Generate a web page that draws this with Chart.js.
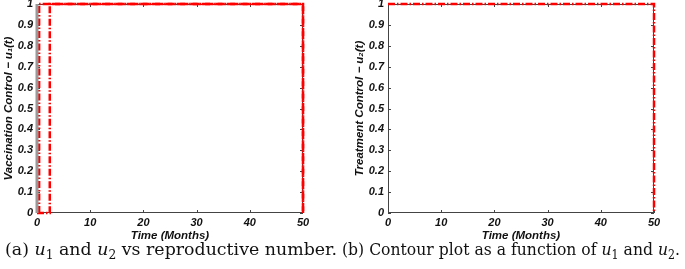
<!DOCTYPE html>
<html>
<head>
<meta charset="utf-8">
<script src="https://cdn.jsdelivr.net/npm/chart.js@4.4.0/dist/chart.umd.min.js"></script>
<style>
  body { margin: 0; background: #fff; width: 685px; height: 269px; overflow: hidden; position: relative; }
  .box { position: absolute; top: 0; width: 342px; height: 245px; }
  .cap { position: absolute; top: 239px; font-family: "DejaVu Serif", "Liberation Serif", serif; font-size: 17px; color: #111; white-space: nowrap; transform-origin: 0 0; }
  .cap sub { font-size: 12px; vertical-align: -4px; line-height: 0; }
</style>
</head>
<body>
<div class="box" style="left:0"><canvas id="chartA" width="342" height="245"></canvas></div>
<div class="box" style="left:351px"><canvas id="chartB" width="334" height="245"></canvas></div>
<div class="cap" id="capA" data-w="332" style="left:5px">(a) <i>u</i><sub>1</sub> and <i>u</i><sub>2</sub> vs reproductive number.</div>
<div class="cap" id="capB" data-w="338" style="left:342px">(b) Contour plot as a function of <i>u</i><sub>1</sub> and <i>u</i><sub>2</sub>.</div>
<script>
// data block
const xTicks = [0, 10, 20, 30, 40, 50];
const yTicks = [0, 0.1, 0.2, 0.3, 0.4, 0.5, 0.6, 0.7, 0.8, 0.9, 1];

// panel (a)
const a0T = [0, 0];
const a0V = [0, 1];
const a1T = [0.4, 0.4, 50, 50];
const a1V = [0, 1, 1, 0];
const a2T = [0, 2.4, 2.4, 50, 50];
const a2V = [0, 0, 1, 1, 0];

// panel (b)
const b1T = [0, 50, 50];
const b1V = [1, 1, 0];

const pts = (t, v) => t.map((x, i) => ({ x, y: v[i] }));

// fit captions to the width they have in the figure
document.querySelectorAll('.cap').forEach(el => {
    const w = el.getBoundingClientRect().width;
    el.style.transform = 'scaleX(' + (Number(el.dataset.w) / w) + ')';
});

const tickFont = { family: 'Liberation Sans, Arial, sans-serif', size: 11, weight: 'bold', style: 'italic' };
const titleFont = { family: 'Liberation Sans, Arial, sans-serif', size: 11.5, weight: 'bold', style: 'italic' };

// MATLAB style frame with inward ticks, drawn under the lines
const framePlugin = {
    id: 'frame',
    beforeDatasetsDraw(chart) {
        const { ctx, chartArea: a, scales } = chart;
        ctx.save();
        ctx.strokeStyle = '#444';
        ctx.lineWidth = 1;
        ctx.strokeRect(a.left + 0.5, a.top + 0.5, a.right - a.left - 1, a.bottom - a.top - 1);
        ctx.beginPath();
        xTicks.forEach(v => {
            const px = Math.round(scales.x.getPixelForValue(v)) + 0.5;
            ctx.moveTo(px, a.bottom); ctx.lineTo(px, a.bottom - 3);
            ctx.moveTo(px, a.top); ctx.lineTo(px, a.top + 3);
        });
        yTicks.forEach(v => {
            const py = Math.round(scales.y.getPixelForValue(v)) + 0.5;
            ctx.moveTo(a.left, py); ctx.lineTo(a.left + 3, py);
            ctx.moveTo(a.right, py); ctx.lineTo(a.right - 3, py);
        });
        ctx.stroke();
        ctx.restore();
    }
};

function makeOptions(yTitle, rightPad) {
    return {
        responsive: false,
        animation: false,
        layout: { padding: { top: 4, right: rightPad, left: 0, bottom: 2 } },
        plugins: { legend: { display: false }, tooltip: { enabled: false } },
        elements: { point: { radius: 0 } },
        scales: {
            x: {
                type: 'linear', min: 0, max: 50,
                afterBuildTicks: s => { s.ticks = xTicks.map(value => ({ value })); },
                afterFit: s => { s.height = 30; s.paddingLeft = 0; s.paddingRight = 0; },
                grid: { display: false, drawTicks: false },
                border: { display: false },
                ticks: { font: tickFont, color: '#111', padding: 3, maxRotation: 0, minRotation: 0, autoSkip: false },
                title: { display: true, text: 'Time (Months)', font: titleFont, color: '#111', padding: 0 }
            },
            y: {
                type: 'linear', min: 0, max: 1,
                afterBuildTicks: s => { s.ticks = yTicks.map(value => ({ value })); },
                afterFit: s => { s.width = 37; s.paddingTop = 0; s.paddingBottom = 0; },
                grid: { display: false, drawTicks: false },
                border: { display: false },
                ticks: { font: tickFont, color: '#111', padding: 4, maxRotation: 0, minRotation: 0, autoSkip: false,
                         callback: v => String(Math.round(v * 10) / 10) },
                title: { display: true, text: yTitle, font: titleFont, color: '#111', padding: { top: 2, bottom: 0 } }
            }
        }
    };
}

const redDash = { borderColor: 'rgb(255,0,0)', borderWidth: 2.5, borderDash: [7, 2, 1.5, 2], fill: false, showLine: true, tension: 0, clip: 4 };

new Chart(document.getElementById('chartA'), {
    type: 'scatter',
    data: {
        datasets: [
            { data: pts(a0T, a0V), borderColor: '#999', borderWidth: 3, showLine: true, clip: 4 },
            Object.assign({ data: pts(a1T, a1V) }, redDash),
            Object.assign({ data: pts(a2T, a2V) }, redDash)
        ]
    },
    options: makeOptions('Vaccination Control \u2212 u\u2081(t)', 39),
    plugins: [framePlugin]
});

new Chart(document.getElementById('chartB'), {
    type: 'scatter',
    data: {
        datasets: [
            Object.assign({ data: pts(b1T, b1V) }, redDash)
        ]
    },
    options: makeOptions('Treatment Control \u2212 u\u2082(t)', 31),
    plugins: [framePlugin]
});
</script>
</body>
</html>
